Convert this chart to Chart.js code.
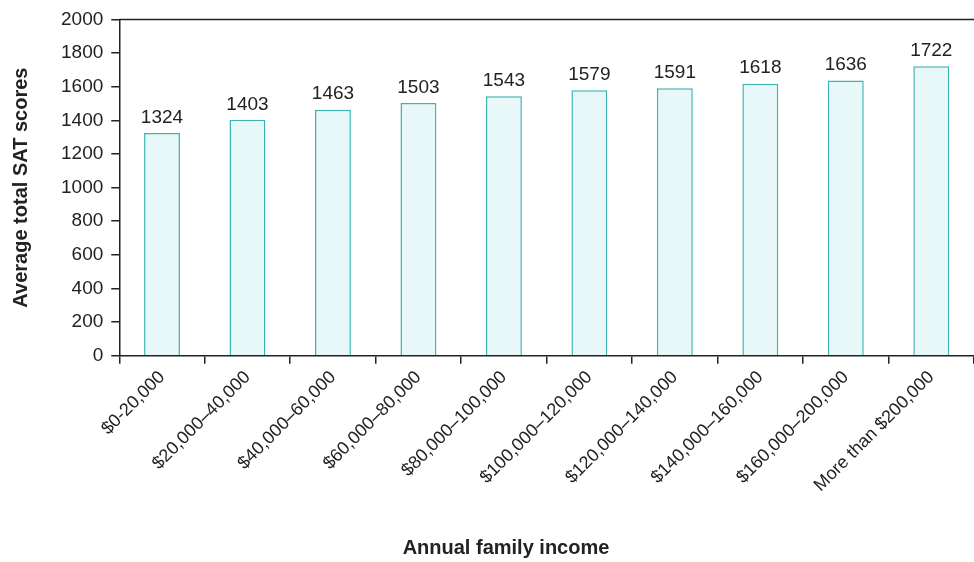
<!DOCTYPE html>
<html>
<head>
<meta charset="utf-8">
<script src="https://cdn.jsdelivr.net/npm/chart.js@4"></script>
<style>
  html, body { margin: 0; padding: 0; background: #fff; }
  #wrap { width: 974px; height: 562px; position: relative; }
</style>
</head>
<body>
<div id="wrap"><canvas id="c"></canvas></div>
<script>
// Données
const incomeBands = ['$0-20,000', '$20,000\u201340,000', '$40,000\u201360,000', '$60,000\u201380,000',
  '$80,000\u2013100,000', '$100,000\u2013120,000', '$120,000\u2013140,000', '$140,000\u2013160,000',
  '$160,000\u2013200,000', 'More than $200,000'];
const satScores = [1324, 1403, 1463, 1503, 1543, 1579, 1591, 1618, 1636, 1722];
const yTicks = [0, 200, 400, 600, 800, 1000, 1200, 1400, 1600, 1800, 2000];

const FONT = '"Liberation Sans", Arial, sans-serif';
const INK = '#222';

// valeurs au-dessus des barres + ligne du haut + titre de l'axe x
const extras = {
  id: 'extras',
  afterDatasetsDraw(chart) {
    const ctx = chart.ctx;
    const meta = chart.getDatasetMeta(0);
    ctx.save();
    ctx.fillStyle = INK;
    ctx.font = '19px ' + FONT;
    ctx.textAlign = 'center';
    ctx.textBaseline = 'bottom';
    meta.data.forEach((bar, i) => {
      ctx.fillText(String(satScores[i]), bar.x, bar.y - 6);
    });
    const a = chart.chartArea;
    ctx.strokeStyle = INK;
    ctx.lineWidth = 1.5;
    ctx.beginPath();
    ctx.moveTo(a.left, a.top);
    ctx.lineTo(chart.width, a.top);
    ctx.stroke();
    ctx.font = 'bold 20px ' + FONT;
    ctx.textBaseline = 'middle';
    ctx.fillText('Annual family income', 506, 548);
    ctx.restore();
  }
};

new Chart(document.getElementById('c'), {
  type: 'bar',
  data: {
    labels: incomeBands,
    datasets: [{
      data: satScores,
      backgroundColor: '#e8f8f8',
      borderColor: '#3cb4b4',
      borderWidth: 1.5,
      categoryPercentage: 0.84,
      barPercentage: 0.5,
    }]
  },
  options: {
    responsive: true,
    maintainAspectRatio: false,
    animation: false,
    layout: { padding: { top: 16, right: -4, bottom: 63, left: 9 } },
    plugins: { legend: { display: false }, tooltip: { enabled: false } },
    scales: {
      x: {
        grid: { display: true, drawOnChartArea: false, offset: true, tickLength: 8, color: INK, lineWidth: 1.5 },
        border: { color: INK, width: 1.5 },
        ticks: { color: INK, font: { family: FONT, size: 18 }, autoSkip: false, minRotation: 45, maxRotation: 45, padding: 3 },
      },
      y: {
        min: 0, max: 2000,
        afterBuildTicks: (s) => { s.ticks = yTicks.map(v => ({ value: v })); },
        grid: { display: true, drawOnChartArea: false, tickLength: 8, color: INK, lineWidth: 1.5 },
        border: { color: INK, width: 1.5 },
        ticks: { color: INK, font: { family: FONT, size: 19 }, padding: 8, callback: (v) => String(v) },
        title: { display: true, text: 'Average total SAT scores', color: INK, font: { family: FONT, size: 20, weight: 'bold' }, padding: { top: 0, bottom: 20 } },
      }
    }
  },
  plugins: [extras]
});
</script>
</body>
</html>
